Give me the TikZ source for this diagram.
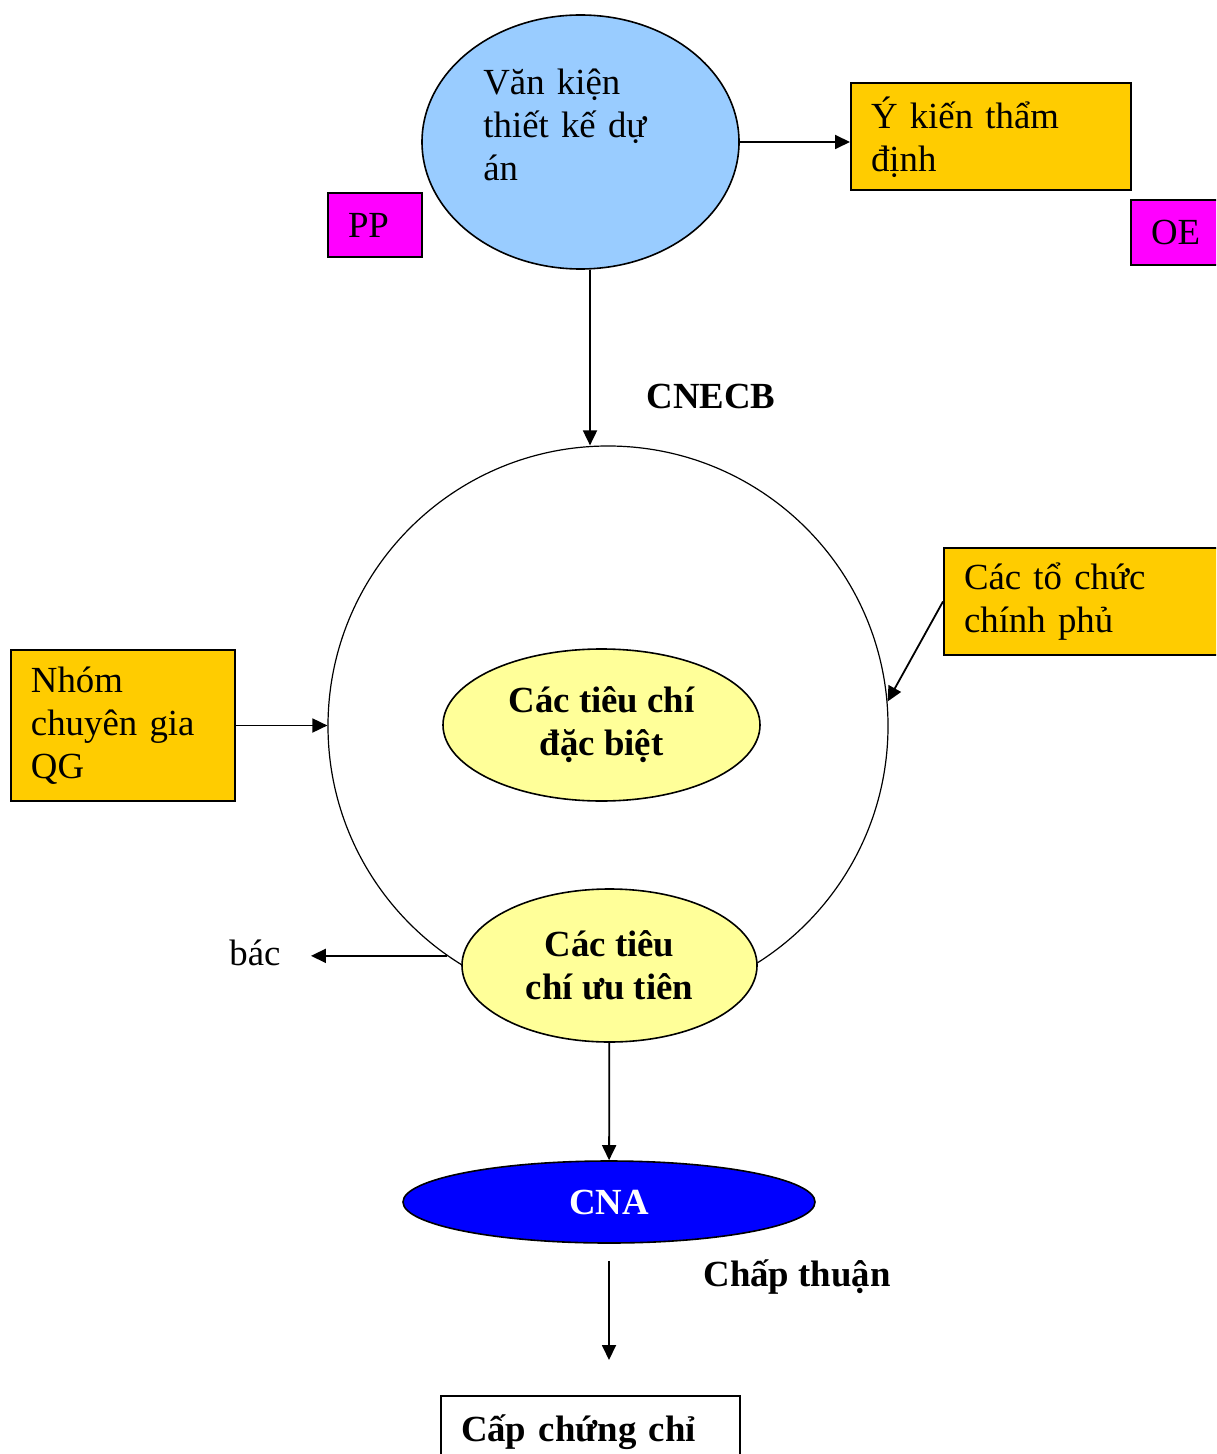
\documentclass[tikz,border=0pt]{standalone}
\usepackage{fontspec}
\setmainfont{Liberation Serif}
\usetikzlibrary{arrows.meta,shapes.geometric}

\definecolor{skyblue}{HTML}{99CCFF}
\definecolor{gold}{HTML}{FFCC00}
\definecolor{pinktag}{HTML}{FF00FF}
\definecolor{paleyellow}{HTML}{FFFF99}
\definecolor{cnablue}{HTML}{0000FF}

\begin{document}
\begin{tikzpicture}[x=0.5pt,y=-0.5pt,
        every node/.style={font=\fontsize{18.4}{21.5}\selectfont},
        lbl/.style={font=\fontsize{18.4}{21.5}\selectfont\bfseries},
        box/.style={draw, line width=1pt, fill=gold, inner xsep=10pt, inner ysep=0pt, align=left},
        tag/.style={draw, line width=1pt, fill=pinktag, inner xsep=10pt, inner ysep=0pt, align=left},
        crit/.style={ellipse, draw, line width=0.8pt, fill=paleyellow, inner sep=0pt, align=center, font=\fontsize{18.4}{21.5}\selectfont\bfseries},
        arr/.style={-{Triangle[length=7.5pt,width=7pt]}, line width=0.9pt}
    ]
    \clip (0,0) rectangle (1216,1454);

    % top part
    \node[ellipse, draw, line width=0.8pt, fill=skyblue, minimum width=158.5pt, minimum height=127pt] (vk) at (580.5,142) {};
    \node[anchor=base west, text width=85pt, inner sep=0pt, align=left] (vktext) at (483,95) {Văn kiện\\thiết kế dự\\án};
    \node[box, text width=120pt, minimum height=53.5pt] (ykien) at (991,137) {Ý kiến thẩm\\định};
    \node[tag, text width=27pt, minimum height=32pt] (pp) at (375,225) {PP};
    \node[tag, text width=29.5pt, minimum height=32.5pt] (oe) at (1180.5,232.5) {OE};
    \node[lbl] (cnecb) at (711,396) {CNECB};

    % middle part
    \node[circle, draw, line width=0.6pt, minimum size=280pt, inner sep=0pt] (vong) at (608,726) {};
    \node[crit, minimum width=158.5pt, minimum height=76pt] (dacbiet) at (601.5,725) {Các tiêu chí\\đặc biệt};
    \node[crit, minimum width=147.5pt, minimum height=76.5pt] (uutien) at (609.5,965.5) {Các tiêu\\chí ưu tiên};
    \node[box, text width=92pt, minimum height=75.5pt] (nhom) at (123,725.5) {Nhóm\\chuyên gia\\QG};
    \node[box, text width=123pt, minimum height=53.5pt] (tochuc) at (1087,601.5) {Các tổ chức\\chính phủ};
    \node[inner xsep=15pt] (bac) at (255,953) {bác};

    % bottom part
    \node[ellipse, draw, line width=0.8pt, fill=cnablue, text=white, lbl, minimum width=206pt, minimum height=41pt, inner sep=0pt] (cna) at (609,1202) {CNA};
    \node[lbl] (chapthuan) at (797,1277) {Chấp thuận};
    \node[draw, line width=1pt, lbl, anchor=north west, text width=129.5pt, inner xsep=10pt, inner ysep=6.5pt, text height=16pt, text depth=20pt, align=left] (cap) at (440,1395) {Cấp chứng chỉ};

    \path (vk.south) ++(9.5,0) coordinate (vkfoot);
    \path (cna.south) ++(0,17) coordinate (cnafoot);
    \path (cna.south |- cap.north) ++(0,-35) coordinate (caphead);

    \draw[arr] (vk.east) -- (vk.east -| ykien.west);
    \draw[arr] (vkfoot) -- (vkfoot |- vong.north);
    \draw[arr] (nhom.east) -- (nhom.east -| vong.west);
    \draw[arr] (tochuc.west) -- (vong.5);
    \draw[arr] (vong.235) -- (vong.235 -| bac.east);
    \draw[arr] (uutien) -- (cna);
    \draw[arr] (cnafoot) -- (caphead);
\end{tikzpicture}
\end{document}
